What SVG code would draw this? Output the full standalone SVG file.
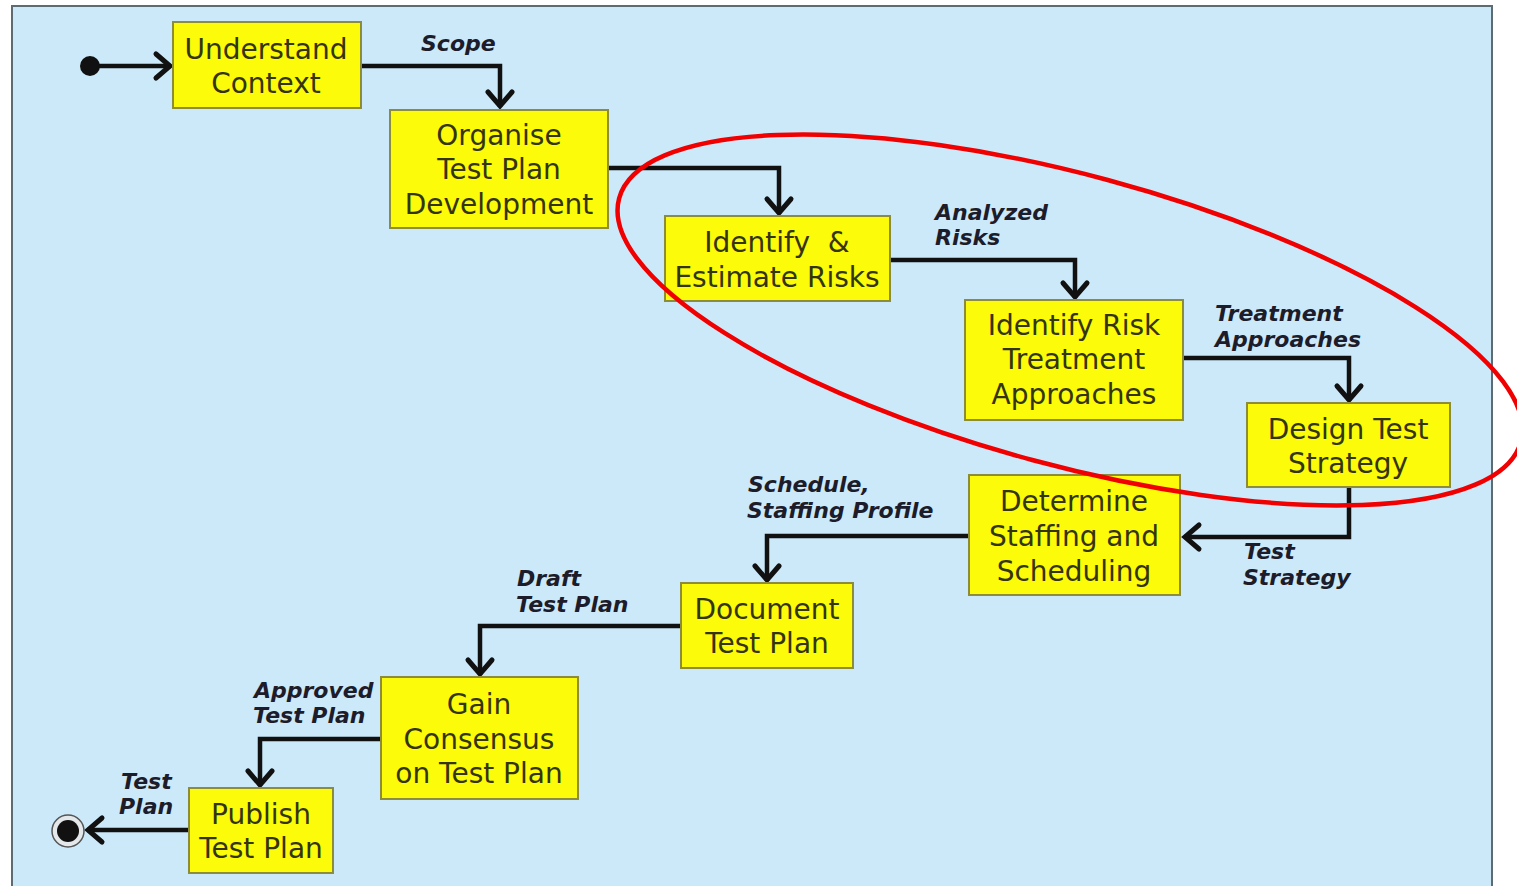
<svg xmlns="http://www.w3.org/2000/svg" width="1517" height="886" viewBox="0 0 1517 886">
  <defs>
    <marker id="arrow" markerUnits="userSpaceOnUse" markerWidth="40" markerHeight="40" viewBox="-20 -20 40 40" refX="0" refY="0" orient="auto">
      <path d="M-15,-12 L-1,0 L-15,12" fill="none" stroke="#111" stroke-width="5" stroke-linejoin="miter" stroke-linecap="round"/>
    </marker>
    <style>
      .box { fill: #fbfb0a; stroke: #8c8c3a; stroke-width: 2; }
      .txt { font-family: "DejaVu Sans", Verdana, sans-serif; font-size: 28px; fill: #34340e; text-anchor: middle; white-space: pre; }
      .lbl { font-family: "DejaVu Sans", Verdana, sans-serif; font-size: 22px; font-weight: bold; font-style: italic; fill: #1c1c2a; }
      .flow { fill: none; stroke: #111; stroke-width: 4.5; stroke-linejoin: miter; marker-end: url(#arrow); }
    </style>
  </defs>

  <!-- page and panel -->
  <rect x="0" y="0" width="1517" height="886" fill="#ffffff"/>
  <rect x="12" y="6" width="1480" height="890" fill="#cce9fa" stroke="#5d6b73" stroke-width="2"/>

  <!-- connectors -->
  <g id="connectors">
    <circle cx="90" cy="66" r="10" fill="#111"/>
    <path class="flow" d="M96,66 H171"/>
    <path class="flow" d="M361,66 H500 V107"/>
    <path class="flow" d="M608,168 H779 V214"/>
    <path class="flow" d="M890,260 H1075 V298"/>
    <path class="flow" d="M1183,358 H1349 V401"/>
    <path class="flow" d="M1349,487 V537 H1184"/>
    <path class="flow" d="M969,536 H767 V581"/>
    <path class="flow" d="M681,626 H480 V675"/>
    <path class="flow" d="M381,739 H260 V786"/>
    <path class="flow" d="M189,830 H87"/>
    <circle cx="68" cy="831" r="16" fill="#e4e8ea" stroke="#555" stroke-width="1.5"/>
    <circle cx="68" cy="831" r="11" fill="#111"/>

    <text class="lbl" x="421" y="51">Scope</text>
    <text class="lbl" x="935" y="220">Analyzed</text>
    <text class="lbl" x="935" y="245">Risks</text>
    <text class="lbl" x="1215" y="321">Treatment</text>
    <text class="lbl" x="1215" y="347">Approaches</text>
    <text class="lbl" x="1244" y="559">Test</text>
    <text class="lbl" x="1243" y="585">Strategy</text>
    <text class="lbl" x="748" y="492">Schedule,</text>
    <text class="lbl" x="747" y="518">Staffing Profile</text>
    <text class="lbl" x="517" y="586">Draft</text>
    <text class="lbl" x="516" y="612">Test Plan</text>
    <text class="lbl" x="254" y="698">Approved</text>
    <text class="lbl" x="253" y="723">Test Plan</text>
    <text class="lbl" x="121" y="789">Test</text>
    <text class="lbl" x="119" y="814">Plan</text>
  </g>

  <!-- activity nodes -->
  <g id="understand-context">
    <rect class="box" x="173" y="22" width="188" height="86"/>
    <text class="txt" x="266" y="59">Understand</text>
    <text class="txt" x="266" y="93">Context</text>
  </g>
  <g id="organise">
    <rect class="box" x="390" y="110" width="218" height="118"/>
    <text class="txt" x="499" y="145">Organise</text>
    <text class="txt" x="499" y="179">Test Plan</text>
    <text class="txt" x="499" y="214">Development</text>
  </g>
  <g id="identify-estimate">
    <rect class="box" x="665" y="216" width="225" height="85"/>
    <text class="txt" x="777" y="252">Identify  &amp;</text>
    <text class="txt" x="777" y="287">Estimate Risks</text>
  </g>
  <g id="treatment">
    <rect class="box" x="965" y="300" width="218" height="120"/>
    <text class="txt" x="1074" y="335">Identify Risk</text>
    <text class="txt" x="1074" y="369">Treatment</text>
    <text class="txt" x="1074" y="404">Approaches</text>
  </g>
  <g id="design-strategy">
    <rect class="box" x="1247" y="403" width="203" height="84"/>
    <text class="txt" x="1348" y="439">Design Test</text>
    <text class="txt" x="1348" y="473">Strategy</text>
  </g>
  <g id="staffing">
    <rect class="box" x="969" y="475" width="211" height="120"/>
    <text class="txt" x="1074" y="511">Determine</text>
    <text class="txt" x="1074" y="546">Staffing and</text>
    <text class="txt" x="1074" y="581">Scheduling</text>
  </g>
  <g id="document">
    <rect class="box" x="681" y="583" width="172" height="85"/>
    <text class="txt" x="767" y="619">Document</text>
    <text class="txt" x="767" y="653">Test Plan</text>
  </g>
  <g id="consensus">
    <rect class="box" x="381" y="677" width="197" height="122"/>
    <text class="txt" x="479" y="714">Gain</text>
    <text class="txt" x="479" y="749">Consensus</text>
    <text class="txt" x="479" y="783">on Test Plan</text>
  </g>
  <g id="publish">
    <rect class="box" x="189" y="788" width="144" height="85"/>
    <text class="txt" x="261" y="824">Publish</text>
    <text class="txt" x="261" y="858">Test Plan</text>
  </g>

  <!-- highlight round the risk steps -->
  <ellipse cx="1070" cy="320" rx="467" ry="145" transform="rotate(15.1 1070 320)" fill="none" stroke="#f00000" stroke-width="4.5"/>
</svg>
